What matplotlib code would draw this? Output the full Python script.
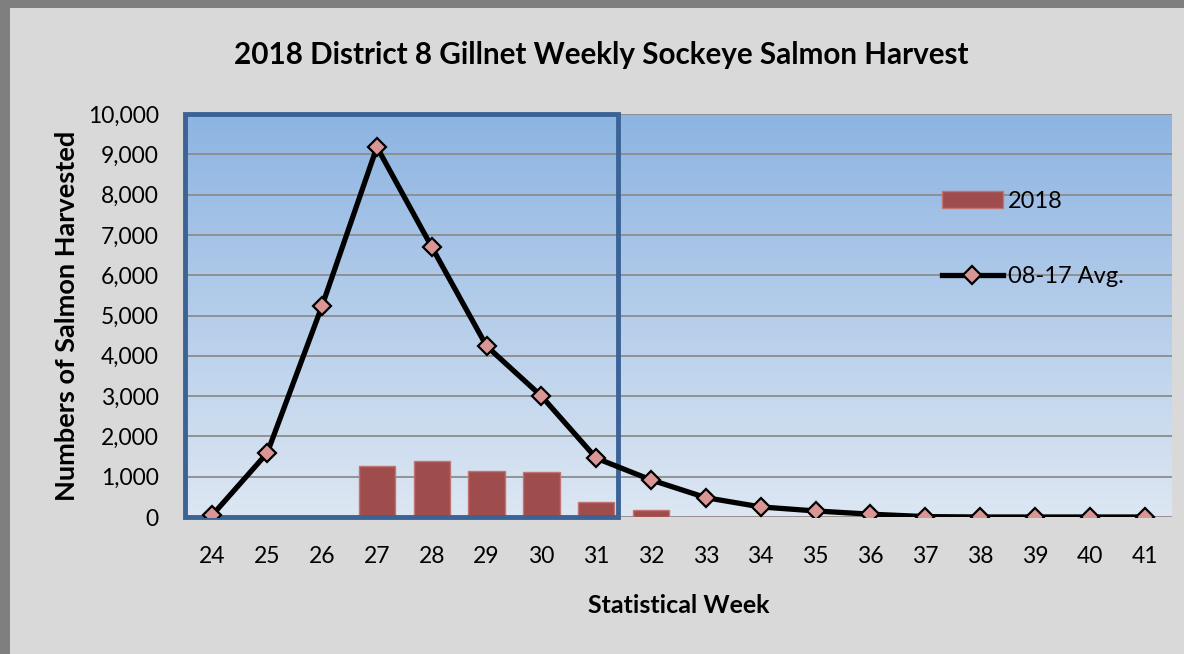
"""2018 District 8 gillnet weekly sockeye salmon harvest vs 2008-17 average."""

import matplotlib

matplotlib.use("Agg")
import matplotlib.pyplot as plt
import numpy as np
from matplotlib.patches import Rectangle
from matplotlib.ticker import FuncFormatter

weeks = [24, 25, 26, 27, 28, 29, 30, 31, 32, 33, 34, 35, 36, 37, 38, 39, 40, 41]
harvest_2018 = [0, 0, 0, 1260, 1390, 1140, 1115, 370, 170, 0, 0, 0, 0, 0, 0, 0, 0, 0]
avg_08_17 = [50, 1590, 5240, 9180, 6700, 4240, 3000, 1460, 920, 480, 250, 150, 70, 10, 0, 0, 0, 0]

FONT = "Lato"

fig = plt.figure(figsize=(11.84, 6.54), dpi=100)
fig.patch.set_facecolor("#7f7f7f")
fig.patches.append(Rectangle((10 / 1184, 0), 1, 1 - 8 / 654, transform=fig.transFigure,
                             facecolor="#d9d9d9", edgecolor="none", zorder=-5))

ax = fig.add_axes([185 / 1184, 1 - 517 / 654, (1172 - 185) / 1184, (517 - 114) / 654])
ax.set_xlim(23.5, 41.5)
ax.set_ylim(0, 10000)

# vertical blue gradient for the plot area
top = np.array([141, 180, 226]) / 255
bottom = np.array([221, 231, 243]) / 255
t = np.linspace(0, 1, 256)[:, None]
grad = (top * (1 - t) + bottom * t)[:, None, :]
ax.imshow(grad, extent=(23.5, 41.5, 0, 10000), aspect="auto", origin="upper", zorder=0)

for v in range(1000, 10001, 1000):
    ax.axhline(v, color="#8c8c8c", lw=1.3, zorder=1)
ax.axhline(0, color="#8c8c8c", lw=1.3, zorder=1)

bars = ax.bar(weeks, harvest_2018, width=0.66, color="#9e4d4c", edgecolor="#c27472",
              linewidth=1, zorder=2, label="2018")
line, = ax.plot(weeks, avg_08_17, color="black", lw=3.8, marker="D", markersize=9,
                markerfacecolor="#d99694", markeredgecolor="black", markeredgewidth=1.6,
                zorder=4, label="08-17 Avg.")

# highlight box around weeks 24-31
ax.add_patch(Rectangle((23.5, 0), 31.4 - 23.5, 10000, fill=False, edgecolor="#3b6396",
                       lw=3.5, zorder=3, clip_on=False))

for s in ax.spines.values():
    s.set_visible(False)
ax.set_xticks(weeks)
ax.set_yticks(range(0, 10001, 1000))
ax.yaxis.set_major_formatter(FuncFormatter(lambda v, _: f"{int(v):,}"))
ax.tick_params(length=0, labelsize=16.5)
ax.tick_params(axis="x", pad=21)
ax.tick_params(axis="y", pad=19)
for lab in ax.get_xticklabels() + ax.get_yticklabels():
    lab.set_fontfamily(FONT)

ax.set_xlabel("Statistical Week", fontsize=18, fontweight="bold", fontfamily=FONT, labelpad=19)
ax.set_ylabel("Numbers of Salmon Harvested", fontsize=19.5, fontweight="bold",
              fontfamily=FONT, labelpad=6)
fig.text(0.508, 1 - 55 / 654, "2018 District 8 Gillnet Weekly Sockeye Salmon Harvest",
         ha="center", va="center", fontsize=21.3, fontweight="bold", fontfamily=FONT)

ax.legend([bars, line], ["2018", "08-17 Avg."], loc="upper left",
          bbox_to_anchor=(0.745, 0.862), frameon=False,
          labelspacing=2.3, handlelength=2.6, handletextpad=0.2,
          prop={"family": FONT, "size": 17})

fig.savefig("out.png", dpi=100, facecolor=fig.get_facecolor())
